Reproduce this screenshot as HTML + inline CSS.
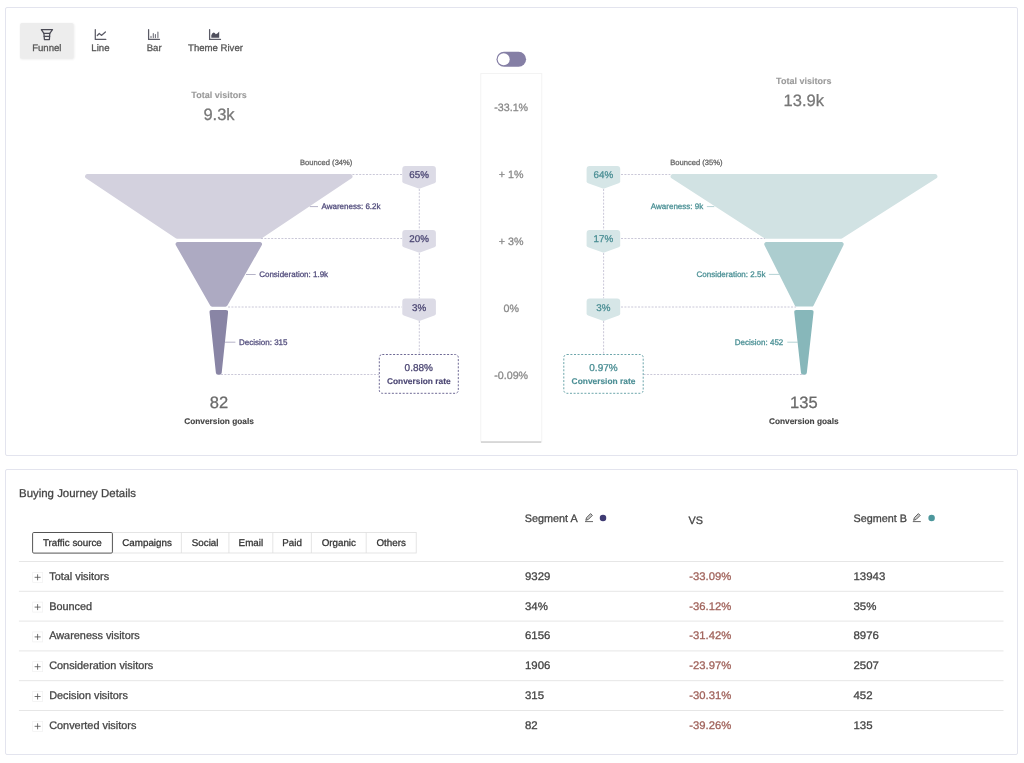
<!DOCTYPE html>
<html lang="en"><head><meta charset="utf-8"><title>Buying Journey</title>
<style>
html,body{margin:0;padding:0;background:#fff;}
body{width:1024px;height:763px;position:relative;overflow:hidden;font-family:"Liberation Sans", Arial, Helvetica, sans-serif;}
.card{position:absolute;left:5px;width:1011px;border:1.2px solid #e3e4ee;border-radius:2px;background:#fff;box-sizing:content-box;}
#c1{top:7px;height:446.5px;}
#c2{top:469px;height:283.5px;}
svg{position:absolute;left:0;top:0;font-family:"Liberation Sans", Arial, Helvetica, sans-serif;will-change:transform;text-rendering:geometricPrecision;}
</style></head>
<body>
<div class="card" id="c1"></div>
<div class="card" id="c2"></div>
<svg width="1024" height="763" viewBox="0 0 1024 763">
<defs><filter id="sh" x="-20%" y="-20%" width="140%" height="140%"><feGaussianBlur stdDeviation="1.2"/></filter></defs>
<rect x="20.4" y="23.4" width="54" height="36.2" rx="2" fill="#000" opacity="0.07" filter="url(#sh)"/>
<rect x="20.1" y="23.1" width="53.4" height="35.7" rx="1.5" fill="#ededed"/>
<text x="46.8" y="50.9" font-size="9.6" fill="#555555" text-anchor="middle" stroke="#555555" stroke-width="0.28">Funnel</text>
<text x="100.4" y="50.9" font-size="9.6" fill="#555555" text-anchor="middle" stroke="#555555" stroke-width="0.28">Line</text>
<text x="154.2" y="50.9" font-size="9.6" fill="#555555" text-anchor="middle" stroke="#555555" stroke-width="0.28">Bar</text>
<text x="215.5" y="50.9" font-size="9.6" fill="#555555" text-anchor="middle" stroke="#555555" stroke-width="0.28">Theme River</text>
<g fill="none" stroke="#4a4a55" stroke-width="1.25" stroke-linejoin="round" stroke-linecap="round"><path d="M41.3,29.7 H52.5 L49.8,33.3 L49.4,39.5 H44.4 L43.9,33.3 Z"/><path d="M43.9,33.3 H49.8"/><path d="M44.2,36.4 H49.6"/></g>
<g fill="none" stroke="#5b5b66" stroke-width="1.25" stroke-linejoin="round" stroke-linecap="round"><path d="M95.3,29.5 V39.4 H105.8"/><path d="M97.3,35.5 L99.3,33.5 L101.4,35.4 L105.4,32"/></g>
<g fill="none" stroke="#5b5b66" stroke-width="1.25" stroke-linecap="round"><path d="M148.6,29.6 V39.35 H159.5"/></g>
<g fill="none" stroke="#6e6e78" stroke-width="1.1" stroke-linecap="round"><path d="M151,36.2 V37.6 M153.3,33.6 V37.6 M155.4,34.5 V37.6 M157.9,32 V37.6"/></g>
<g fill="none" stroke="#5b5b66" stroke-width="1.25" stroke-linecap="round"><path d="M209.6,29.5 V39.4 H220.5"/></g>
<path d="M211.3,37.7 V35.3 Q212.3,32.6 213.7,32.6 Q214.8,32.6 215.8,34.2 Q217.8,33.8 219.2,31.5 V37.7 Z" fill="#4f4f5c"/>
<path d="M86.00,178.13 A2.20,2.20 0 0 1 87.23,174.10 L350.37,174.10 A2.20,2.20 0 0 1 351.60,178.13 L261.86,238.33 A2.20,2.20 0 0 1 260.63,238.70 L176.97,238.70 A2.20,2.20 0 0 1 175.74,238.33 Z" fill="#d3d1de"/>
<path d="M175.87,245.29 A2.20,2.20 0 0 1 177.78,242.00 L259.82,242.00 A2.20,2.20 0 0 1 261.73,245.29 L227.43,305.59 A2.20,2.20 0 0 1 225.52,306.70 L212.08,306.70 A2.20,2.20 0 0 1 210.17,305.59 Z" fill="#adaac2"/>
<path d="M209.55,312.43 A2.20,2.20 0 0 1 211.74,310.00 L225.86,310.00 A2.20,2.20 0 0 1 228.05,312.43 L221.71,372.83 A2.20,2.20 0 0 1 219.52,374.80 L218.08,374.80 A2.20,2.20 0 0 1 215.89,372.83 Z" fill="#8985a5"/>
<line x1="352.4" y1="174.5" x2="402" y2="174.5" stroke="#c4c2d4" stroke-width="0.9" stroke-dasharray="2 1.4"/>
<line x1="261" y1="238.5" x2="402" y2="238.5" stroke="#c4c2d4" stroke-width="0.9" stroke-dasharray="2 1.4"/>
<line x1="228" y1="307" x2="402" y2="307" stroke="#c4c2d4" stroke-width="0.9" stroke-dasharray="2 1.4"/>
<line x1="221" y1="374.5" x2="379" y2="374.5" stroke="#c4c2d4" stroke-width="0.9" stroke-dasharray="2 1.4"/>
<line x1="419.3" y1="189" x2="419.3" y2="230.5" stroke="#c4c2d4" stroke-width="0.9" stroke-dasharray="2 1.4"/>
<line x1="419.3" y1="253" x2="419.3" y2="298.5" stroke="#c4c2d4" stroke-width="0.9" stroke-dasharray="2 1.4"/>
<line x1="419.3" y1="321" x2="419.3" y2="354" stroke="#c4c2d4" stroke-width="0.9" stroke-dasharray="2 1.4"/>
<path d="M405.3,166.1 L432.90000000000003,166.1 Q435.90000000000003,166.1 435.90000000000003,169.1 L435.90000000000003,181.5 Q435.90000000000003,182.7 434.40000000000003,183.3 L419.3,188.7 L403.8,183.3 Q402.3,182.7 402.3,181.5 L402.3,169.1 Q402.3,166.1 405.3,166.1 Z" fill="#dcdbe6"/><text x="419.1" y="178.2" font-size="9.8" fill="#4b4673" text-anchor="middle" stroke="#4b4673" stroke-width="0.28">65%</text>
<path d="M405.3,230.1 L432.90000000000003,230.1 Q435.90000000000003,230.1 435.90000000000003,233.1 L435.90000000000003,245.5 Q435.90000000000003,246.7 434.40000000000003,247.3 L419.3,252.7 L403.8,247.3 Q402.3,246.7 402.3,245.5 L402.3,233.1 Q402.3,230.1 405.3,230.1 Z" fill="#dcdbe6"/><text x="419.1" y="242.2" font-size="9.8" fill="#4b4673" text-anchor="middle" stroke="#4b4673" stroke-width="0.28">20%</text>
<path d="M405.3,298.40000000000003 L432.90000000000003,298.40000000000003 Q435.90000000000003,298.40000000000003 435.90000000000003,301.40000000000003 L435.90000000000003,313.8 Q435.90000000000003,315.0 434.40000000000003,315.6 L419.3,321.0 L403.8,315.6 Q402.3,315.0 402.3,313.8 L402.3,301.40000000000003 Q402.3,298.40000000000003 405.3,298.40000000000003 Z" fill="#dcdbe6"/><text x="419.1" y="310.5" font-size="9.8" fill="#4b4673" text-anchor="middle" stroke="#4b4673" stroke-width="0.28">3%</text>
<line x1="309.8" y1="206.6" x2="318" y2="206.6" stroke="#adaac2" stroke-width="0.9"/>
<text x="321.5" y="209.4" font-size="8" fill="#514c7c" text-anchor="start" stroke="#514c7c" stroke-width="0.28">Awareness: 6.2k</text>
<line x1="246" y1="274.5" x2="255.7" y2="274.5" stroke="#adaac2" stroke-width="0.9"/>
<text x="259.2" y="277.3" font-size="8" fill="#514c7c" text-anchor="start" stroke="#514c7c" stroke-width="0.28">Consideration: 1.9k</text>
<line x1="225" y1="342.2" x2="235.4" y2="342.2" stroke="#adaac2" stroke-width="0.9"/>
<text x="239" y="345" font-size="8" fill="#514c7c" text-anchor="start" stroke="#514c7c" stroke-width="0.28">Decision: 315</text>
<text x="352.4" y="164.6" font-size="7.6" fill="#666666" text-anchor="end" stroke="#666666" stroke-width="0.28">Bounced (34%)</text>
<rect x="379.3" y="354.5" width="79" height="38.8" rx="3" fill="#fff" stroke="#5d5889" stroke-width="0.9" stroke-dasharray="2 1.6"/>
<text x="418.8" y="370.7" font-size="10" fill="#4b4673" text-anchor="middle" stroke="#4b4673" stroke-width="0.28">0.88%</text>
<text x="418.8" y="384.4" font-size="8.4" fill="#4b4673" text-anchor="middle" font-weight="bold" stroke="#4b4673" stroke-width="0.12">Conversion rate</text>
<text x="219" y="98" font-size="9" fill="#9a9a9a" text-anchor="middle" font-weight="bold" stroke="#9a9a9a" stroke-width="0.12">Total visitors</text>
<text x="219" y="120" font-size="16.5" fill="#777777" text-anchor="middle" stroke="#777777" stroke-width="0.28">9.3k</text>
<text x="219" y="407.9" font-size="16.5" fill="#6a6a6a" text-anchor="middle" stroke="#6a6a6a" stroke-width="0.28">82</text>
<text x="219" y="424.1" font-size="8.3" fill="#444444" text-anchor="middle" font-weight="bold" stroke="#444444" stroke-width="0.12">Conversion goals</text>
<rect x="480.8" y="73.6" width="61" height="368.4" fill="#fff" stroke="#f1f1f1" stroke-width="0.9"/>
<rect x="481" y="441.4" width="60.2" height="1.3" fill="#c9c9c9"/>
<text x="511.2" y="111" font-size="10.7" fill="#8a8a8a" text-anchor="middle" stroke="#8a8a8a" stroke-width="0.28">-33.1%</text>
<text x="511.2" y="177.8" font-size="10.7" fill="#8a8a8a" text-anchor="middle" stroke="#8a8a8a" stroke-width="0.28">+ 1%</text>
<text x="511.2" y="245" font-size="10.7" fill="#8a8a8a" text-anchor="middle" stroke="#8a8a8a" stroke-width="0.28">+ 3%</text>
<text x="511.2" y="312.1" font-size="10.7" fill="#8a8a8a" text-anchor="middle" stroke="#8a8a8a" stroke-width="0.28">0%</text>
<text x="511.2" y="379.2" font-size="10.7" fill="#8a8a8a" text-anchor="middle" stroke="#8a8a8a" stroke-width="0.28">-0.09%</text>
<rect x="496.5" y="51.8" width="29.6" height="15" rx="7.5" fill="#857fa5"/>
<circle cx="503.7" cy="59.3" r="6" fill="#fff"/>
<path d="M671.54,178.15 A2.20,2.20 0 0 1 672.74,174.10 L935.28,174.10 A2.20,2.20 0 0 1 936.46,178.15 L842.34,238.35 A2.20,2.20 0 0 1 841.16,238.70 L765.65,238.70 A2.20,2.20 0 0 1 764.45,238.35 Z" fill="#d1e2e3"/>
<path d="M764.50,245.19 A2.20,2.20 0 0 1 766.47,242.00 L841.46,242.00 A2.20,2.20 0 0 1 843.43,245.18 L813.61,305.38 A2.20,2.20 0 0 1 811.63,306.60 L796.76,306.60 A2.20,2.20 0 0 1 794.79,305.39 Z" fill="#accdcf"/>
<path d="M794.27,312.44 A2.20,2.20 0 0 1 796.46,310.00 L811.34,310.00 A2.20,2.20 0 0 1 813.53,312.44 L806.82,372.84 A2.20,2.20 0 0 1 804.63,374.80 L803.17,374.80 A2.20,2.20 0 0 1 800.98,372.84 Z" fill="#87b7ba"/>
<line x1="621" y1="174.5" x2="670.4" y2="174.5" stroke="#c4c2d4" stroke-width="0.9" stroke-dasharray="2 1.4"/>
<line x1="621" y1="238.5" x2="765" y2="238.5" stroke="#c4c2d4" stroke-width="0.9" stroke-dasharray="2 1.4"/>
<line x1="621" y1="307" x2="796" y2="307" stroke="#c4c2d4" stroke-width="0.9" stroke-dasharray="2 1.4"/>
<line x1="643.5" y1="374.5" x2="804" y2="374.5" stroke="#c4c2d4" stroke-width="0.9" stroke-dasharray="2 1.4"/>
<line x1="603.6" y1="189" x2="603.6" y2="230.5" stroke="#c4c2d4" stroke-width="0.9" stroke-dasharray="2 1.4"/>
<line x1="603.6" y1="253" x2="603.6" y2="298.5" stroke="#c4c2d4" stroke-width="0.9" stroke-dasharray="2 1.4"/>
<line x1="603.6" y1="321" x2="603.6" y2="354" stroke="#c4c2d4" stroke-width="0.9" stroke-dasharray="2 1.4"/>
<path d="M589.6,166.1 L617.2,166.1 Q620.2,166.1 620.2,169.1 L620.2,181.5 Q620.2,182.7 618.7,183.3 L603.6,188.7 L588.1,183.3 Q586.6,182.7 586.6,181.5 L586.6,169.1 Q586.6,166.1 589.6,166.1 Z" fill="#d6e6e7"/><text x="603.4" y="178.2" font-size="9.8" fill="#4a8e94" text-anchor="middle" stroke="#4a8e94" stroke-width="0.28">64%</text>
<path d="M589.6,230.1 L617.2,230.1 Q620.2,230.1 620.2,233.1 L620.2,245.5 Q620.2,246.7 618.7,247.3 L603.6,252.7 L588.1,247.3 Q586.6,246.7 586.6,245.5 L586.6,233.1 Q586.6,230.1 589.6,230.1 Z" fill="#d6e6e7"/><text x="603.4" y="242.2" font-size="9.8" fill="#4a8e94" text-anchor="middle" stroke="#4a8e94" stroke-width="0.28">17%</text>
<path d="M589.6,298.40000000000003 L617.2,298.40000000000003 Q620.2,298.40000000000003 620.2,301.40000000000003 L620.2,313.8 Q620.2,315.0 618.7,315.6 L603.6,321.0 L588.1,315.6 Q586.6,315.0 586.6,313.8 L586.6,301.40000000000003 Q586.6,298.40000000000003 589.6,298.40000000000003 Z" fill="#d6e6e7"/><text x="603.4" y="310.5" font-size="9.8" fill="#4a8e94" text-anchor="middle" stroke="#4a8e94" stroke-width="0.28">3%</text>
<line x1="706.9" y1="206.6" x2="714.3" y2="206.6" stroke="#accdcf" stroke-width="0.9"/>
<text x="703.2" y="209.4" font-size="8" fill="#4b9095" text-anchor="end" stroke="#4b9095" stroke-width="0.28">Awareness: 9k</text>
<line x1="768.9" y1="274.4" x2="779.6" y2="274.4" stroke="#accdcf" stroke-width="0.9"/>
<text x="765.4" y="277.2" font-size="8" fill="#4b9095" text-anchor="end" stroke="#4b9095" stroke-width="0.28">Consideration: 2.5k</text>
<line x1="787.3" y1="342.2" x2="798" y2="342.2" stroke="#accdcf" stroke-width="0.9"/>
<text x="783.3" y="345" font-size="8" fill="#4b9095" text-anchor="end" stroke="#4b9095" stroke-width="0.28">Decision: 452</text>
<text x="670.2" y="164.6" font-size="7.6" fill="#666666" text-anchor="start" stroke="#666666" stroke-width="0.28">Bounced (35%)</text>
<rect x="563.8" y="354.5" width="79.4" height="38.8" rx="3" fill="#fff" stroke="#5c9ca1" stroke-width="0.9" stroke-dasharray="2 1.6"/>
<text x="603.5" y="370.7" font-size="10" fill="#4a8e94" text-anchor="middle" stroke="#4a8e94" stroke-width="0.28">0.97%</text>
<text x="603.5" y="384.4" font-size="8.4" fill="#4a8e94" text-anchor="middle" font-weight="bold" stroke="#4a8e94" stroke-width="0.12">Conversion rate</text>
<text x="803.8" y="84" font-size="9" fill="#9a9a9a" text-anchor="middle" font-weight="bold" stroke="#9a9a9a" stroke-width="0.12">Total visitors</text>
<text x="803.8" y="105.8" font-size="16.5" fill="#777777" text-anchor="middle" stroke="#777777" stroke-width="0.28">13.9k</text>
<text x="803.8" y="407.9" font-size="16.5" fill="#6a6a6a" text-anchor="middle" stroke="#6a6a6a" stroke-width="0.28">135</text>
<text x="803.8" y="424.1" font-size="8.3" fill="#444444" text-anchor="middle" font-weight="bold" stroke="#444444" stroke-width="0.12">Conversion goals</text>
<rect x="112.7" y="532.6" width="303.5" height="20.4" fill="#fff" stroke="#dedede" stroke-width="0.8"/>
<line x1="181.4" y1="532.6" x2="181.4" y2="553" stroke="#dedede" stroke-width="0.8"/>
<line x1="228.9" y1="532.6" x2="228.9" y2="553" stroke="#dedede" stroke-width="0.8"/>
<line x1="272.8" y1="532.6" x2="272.8" y2="553" stroke="#dedede" stroke-width="0.8"/>
<line x1="311.4" y1="532.6" x2="311.4" y2="553" stroke="#dedede" stroke-width="0.8"/>
<line x1="366.2" y1="532.6" x2="366.2" y2="553" stroke="#dedede" stroke-width="0.8"/>
<rect x="32.6" y="532.5" width="79.8" height="20.6" rx="1.2" fill="#fff" stroke="#555555" stroke-width="1"/>
<text x="72.4" y="545.8" font-size="9.8" fill="#333333" text-anchor="middle" stroke="#333333" stroke-width="0.28">Traffic source</text>
<text x="147.05" y="545.8" font-size="9.8" fill="#333333" text-anchor="middle" stroke="#333333" stroke-width="0.28">Campaigns</text>
<text x="205.15" y="545.8" font-size="9.8" fill="#333333" text-anchor="middle" stroke="#333333" stroke-width="0.28">Social</text>
<text x="250.85000000000002" y="545.8" font-size="9.8" fill="#333333" text-anchor="middle" stroke="#333333" stroke-width="0.28">Email</text>
<text x="292.1" y="545.8" font-size="9.8" fill="#333333" text-anchor="middle" stroke="#333333" stroke-width="0.28">Paid</text>
<text x="338.79999999999995" y="545.8" font-size="9.8" fill="#333333" text-anchor="middle" stroke="#333333" stroke-width="0.28">Organic</text>
<text x="391.2" y="545.8" font-size="9.8" fill="#333333" text-anchor="middle" stroke="#333333" stroke-width="0.28">Others</text>
<text x="19" y="496.6" font-size="11.45" fill="#444444" text-anchor="start" stroke="#444444" stroke-width="0.28">Buying Journey Details</text>
<text x="524.8" y="521.9" font-size="10.8" fill="#444444" text-anchor="start" stroke="#444444" stroke-width="0.28">Segment A</text>
<text x="688.6" y="524.3" font-size="10.8" fill="#444444" text-anchor="start" stroke="#444444" stroke-width="0.28">VS</text>
<text x="853.5" y="521.9" font-size="10.8" fill="#444444" text-anchor="start" stroke="#444444" stroke-width="0.28">Segment B</text>
<path d="M585.8,520.3 L586.6,517.6 L590.6,513.6 L592.4,515.4 L588.4,519.4 Z" fill="#c8c8c8" stroke="#555" stroke-width="0.9" stroke-linejoin="round"/><path d="M585,521.6 H593" stroke="#666" stroke-width="1"/>
<circle cx="603" cy="517.9" r="3.25" fill="#3f3b73"/>
<path d="M913.5999999999999,520.3 L914.4,517.6 L918.4,513.6 L920.1999999999999,515.4 L916.1999999999999,519.4 Z" fill="#c8c8c8" stroke="#555" stroke-width="0.9" stroke-linejoin="round"/><path d="M912.8,521.6 H920.8" stroke="#666" stroke-width="1"/>
<circle cx="931.6" cy="517.9" r="3.25" fill="#4d979c"/>
<line x1="18.9" y1="561.5" x2="1003.5" y2="561.5" stroke="#e6e6e6" stroke-width="1"/>
<line x1="18.9" y1="591.3" x2="1003.5" y2="591.3" stroke="#e6e6e6" stroke-width="1"/>
<line x1="18.9" y1="621.1" x2="1003.5" y2="621.1" stroke="#e6e6e6" stroke-width="1"/>
<line x1="18.9" y1="650.9" x2="1003.5" y2="650.9" stroke="#e6e6e6" stroke-width="1"/>
<line x1="18.9" y1="680.7" x2="1003.5" y2="680.7" stroke="#e6e6e6" stroke-width="1"/>
<line x1="18.9" y1="710.5" x2="1003.5" y2="710.5" stroke="#e6e6e6" stroke-width="1"/>
<rect x="32.7" y="572.3" width="10" height="10" fill="none" stroke="#f0f0f0" stroke-width="0.7"/>
<path d="M34.6,577.3 H40.6 M37.6,574.3 V580.3" stroke="#5a5a5a" stroke-width="0.85"/>
<text x="49.2" y="579.8" font-size="10.9" fill="#444444" text-anchor="start" stroke="#444444" stroke-width="0.28">Total visitors</text>
<text transform="translate(525,579.8) scale(1.04,1)" font-size="11" fill="#444444" text-anchor="start" stroke="#444444" stroke-width="0.28">9329</text>
<text transform="translate(689.3,579.8) scale(1.025,1)" font-size="11" fill="#a0625a" text-anchor="start" stroke="#a0625a" stroke-width="0.28">-33.09%</text>
<text transform="translate(853.5,579.8) scale(1.04,1)" font-size="11" fill="#444444" text-anchor="start" stroke="#444444" stroke-width="0.28">13943</text>
<rect x="32.7" y="602.0999999999999" width="10" height="10" fill="none" stroke="#f0f0f0" stroke-width="0.7"/>
<path d="M34.6,607.0999999999999 H40.6 M37.6,604.0999999999999 V610.0999999999999" stroke="#5a5a5a" stroke-width="0.85"/>
<text x="49.2" y="609.6" font-size="10.9" fill="#444444" text-anchor="start" stroke="#444444" stroke-width="0.28">Bounced</text>
<text transform="translate(525,609.6) scale(1.04,1)" font-size="11" fill="#444444" text-anchor="start" stroke="#444444" stroke-width="0.28">34%</text>
<text transform="translate(689.3,609.6) scale(1.025,1)" font-size="11" fill="#a0625a" text-anchor="start" stroke="#a0625a" stroke-width="0.28">-36.12%</text>
<text transform="translate(853.5,609.6) scale(1.04,1)" font-size="11" fill="#444444" text-anchor="start" stroke="#444444" stroke-width="0.28">35%</text>
<rect x="32.7" y="631.9" width="10" height="10" fill="none" stroke="#f0f0f0" stroke-width="0.7"/>
<path d="M34.6,636.9 H40.6 M37.6,633.9 V639.9" stroke="#5a5a5a" stroke-width="0.85"/>
<text x="49.2" y="639.4" font-size="10.9" fill="#444444" text-anchor="start" stroke="#444444" stroke-width="0.28">Awareness visitors</text>
<text transform="translate(525,639.4) scale(1.04,1)" font-size="11" fill="#444444" text-anchor="start" stroke="#444444" stroke-width="0.28">6156</text>
<text transform="translate(689.3,639.4) scale(1.025,1)" font-size="11" fill="#a0625a" text-anchor="start" stroke="#a0625a" stroke-width="0.28">-31.42%</text>
<text transform="translate(853.5,639.4) scale(1.04,1)" font-size="11" fill="#444444" text-anchor="start" stroke="#444444" stroke-width="0.28">8976</text>
<rect x="32.7" y="661.6999999999999" width="10" height="10" fill="none" stroke="#f0f0f0" stroke-width="0.7"/>
<path d="M34.6,666.6999999999999 H40.6 M37.6,663.6999999999999 V669.6999999999999" stroke="#5a5a5a" stroke-width="0.85"/>
<text x="49.2" y="669.2" font-size="10.9" fill="#444444" text-anchor="start" stroke="#444444" stroke-width="0.28">Consideration visitors</text>
<text transform="translate(525,669.2) scale(1.04,1)" font-size="11" fill="#444444" text-anchor="start" stroke="#444444" stroke-width="0.28">1906</text>
<text transform="translate(689.3,669.2) scale(1.025,1)" font-size="11" fill="#a0625a" text-anchor="start" stroke="#a0625a" stroke-width="0.28">-23.97%</text>
<text transform="translate(853.5,669.2) scale(1.04,1)" font-size="11" fill="#444444" text-anchor="start" stroke="#444444" stroke-width="0.28">2507</text>
<rect x="32.7" y="691.5" width="10" height="10" fill="none" stroke="#f0f0f0" stroke-width="0.7"/>
<path d="M34.6,696.5 H40.6 M37.6,693.5 V699.5" stroke="#5a5a5a" stroke-width="0.85"/>
<text x="49.2" y="699.0" font-size="10.9" fill="#444444" text-anchor="start" stroke="#444444" stroke-width="0.28">Decision visitors</text>
<text transform="translate(525,699.0) scale(1.04,1)" font-size="11" fill="#444444" text-anchor="start" stroke="#444444" stroke-width="0.28">315</text>
<text transform="translate(689.3,699.0) scale(1.025,1)" font-size="11" fill="#a0625a" text-anchor="start" stroke="#a0625a" stroke-width="0.28">-30.31%</text>
<text transform="translate(853.5,699.0) scale(1.04,1)" font-size="11" fill="#444444" text-anchor="start" stroke="#444444" stroke-width="0.28">452</text>
<rect x="32.7" y="721.3" width="10" height="10" fill="none" stroke="#f0f0f0" stroke-width="0.7"/>
<path d="M34.6,726.3 H40.6 M37.6,723.3 V729.3" stroke="#5a5a5a" stroke-width="0.85"/>
<text x="49.2" y="728.8" font-size="10.9" fill="#444444" text-anchor="start" stroke="#444444" stroke-width="0.28">Converted visitors</text>
<text transform="translate(525,728.8) scale(1.04,1)" font-size="11" fill="#444444" text-anchor="start" stroke="#444444" stroke-width="0.28">82</text>
<text transform="translate(689.3,728.8) scale(1.025,1)" font-size="11" fill="#a0625a" text-anchor="start" stroke="#a0625a" stroke-width="0.28">-39.26%</text>
<text transform="translate(853.5,728.8) scale(1.04,1)" font-size="11" fill="#444444" text-anchor="start" stroke="#444444" stroke-width="0.28">135</text>
</svg>
</body></html>
